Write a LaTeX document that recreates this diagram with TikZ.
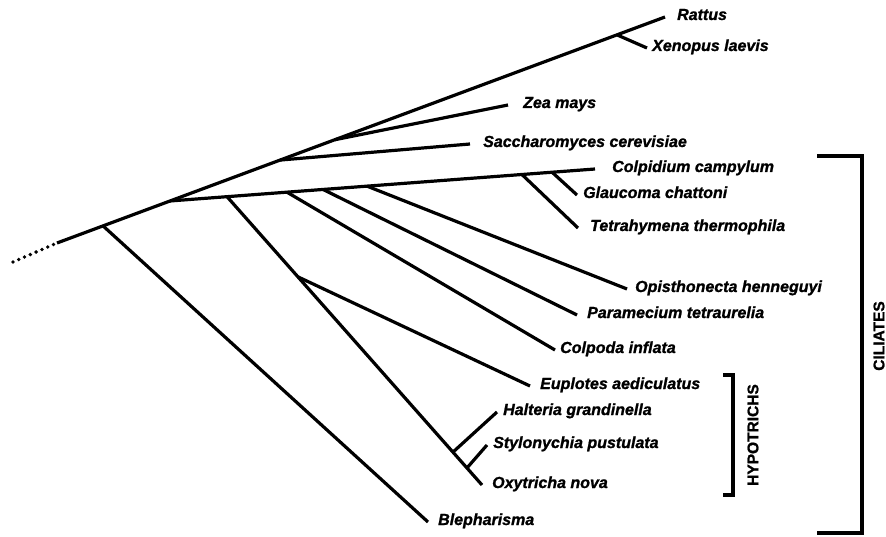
\documentclass[tikz,border=0pt]{standalone}
\usepackage{fontspec}
\setmainfont{Liberation Sans}
\usetikzlibrary{calc}
\begin{document}
\begin{tikzpicture}[x=1pt,y=-1pt,
  br/.style={line width=3.2pt},
  dotline/.style={line width=3.8pt, line cap=round, dash pattern=on 0pt off 6.3pt},
  lab/.style={anchor=west, inner ysep=0pt, text height=8pt, text depth=2pt,
    font=\fontsize{16}{16}\selectfont\bfseries\itshape\addfontfeature{FakeBold=1.2}},
  grp/.style={rotate=90, inner sep=0pt, font=\fontsize{15.5}{16}\selectfont\bfseries\addfontfeature{FakeBold=1.2}}]
\useasboundingbox (0,0) rectangle (886,537);
% leaf labels
\node[lab, inner xsep=12pt] (rattus)    at (665,17)  {Rattus};
\node[lab, inner xsep=5pt]  (xenopus)   at (647,48)  {Xenopus laevis};
\node[lab, inner xsep=15pt] (zea)       at (508,105) {Zea mays};
\node[lab, inner xsep=13pt] (sacch)     at (470,144) {Saccharomyces cerevisiae};
\node[lab, inner xsep=17pt] (colpidium) at (595,169) {Colpidium campylum};
\node[lab, inner xsep=6pt]  (glaucoma)  at (577,195) {Glaucoma chattoni};
\node[lab, inner xsep=12pt] (tetra)     at (578,228) {Tetrahymena thermophila};
\node[lab, inner xsep=8pt]  (opis)      at (627,289) {Opisthonecta henneguyi};
\node[lab, inner xsep=10pt] (param)     at (577,315) {Paramecium tetraurelia};
\node[lab, inner xsep=5pt]  (colpoda)   at (555,350) {Colpoda inflata};
\node[lab, inner xsep=10pt] (euplotes)  at (530,386) {Euplotes aediculatus};
\node[lab, inner xsep=6pt]  (halteria)  at (497,412) {Halteria grandinella};
\node[lab, inner xsep=6pt]  (stylo)     at (487,445) {Stylonychia pustulata};
\node[lab, inner xsep=10pt] (oxy)       at (482,485) {Oxytricha nova};
\node[lab, inner xsep=10pt] (bleph)     at (428,522) {Blepharisma};
% internal nodes
\coordinate (d0) at (13,262);
\coordinate (r)  at (57,243);
\coordinate (nb) at ($(r)!0.0757!(rattus.west)$);
\coordinate (nc) at ($(r)!0.186!(rattus.west)$);
\coordinate (ns) at ($(r)!0.367!(rattus.west)$);
\coordinate (nz) at ($(r)!0.457!(rattus.west)$);
\coordinate (nx) at ($(r)!0.921!(rattus.west)$);
\coordinate (no)  at ($(nc)!0.134!(colpidium.west)$);
\coordinate (ncp) at ($(nc)!0.275!(colpidium.west)$);
\coordinate (npa) at ($(nc)!0.36!(colpidium.west)$);
\coordinate (nop) at ($(nc)!0.4635!(colpidium.west)$);
\coordinate (nt)  at ($(nc)!0.828!(colpidium.west)$);
\coordinate (ng)  at ($(nc)!0.899!(colpidium.west)$);
\coordinate (ne)  at ($(no)!0.278!(oxy.west)$);
\coordinate (nh)  at ($(no)!0.886!(oxy.west)$);
\coordinate (nsy) at ($(no)!0.941!(oxy.west)$);
% branches
\draw[dotline] (d0) -- (r);
\draw[br] (r) -- (rattus.west);
\draw[br] (nx) -- (xenopus.west);
\draw[br] (nz) -- (zea.west);
\draw[br] (ns) -- (sacch.west);
\draw[br] (nc) -- (colpidium.west);
\draw[br] (ng) -- (glaucoma.west);
\draw[br] (nt) -- (tetra.west);
\draw[br] (nop) -- (opis.west);
\draw[br] (npa) -- (param.west);
\draw[br] (ncp) -- (colpoda.west);
\draw[br] (no) -- (oxy.west);
\draw[br] (ne) -- (euplotes.west);
\draw[br] (nh) -- (halteria.west);
\draw[br] (nsy) -- (stylo.west);
\draw[br] (nb) -- (bleph.west);
% brackets
\draw[br] (817,156) -- (862,156) -- (862,533) -- (817,533);
\node[grp] (ciliates) at (879,336) {CILIATES};
\draw[br] (723,375) -- (733,375) -- (733,495) -- (723,495);
\node[grp] (hypo) at (753,435) {HYPOTRICHS};
\end{tikzpicture}
\end{document}
